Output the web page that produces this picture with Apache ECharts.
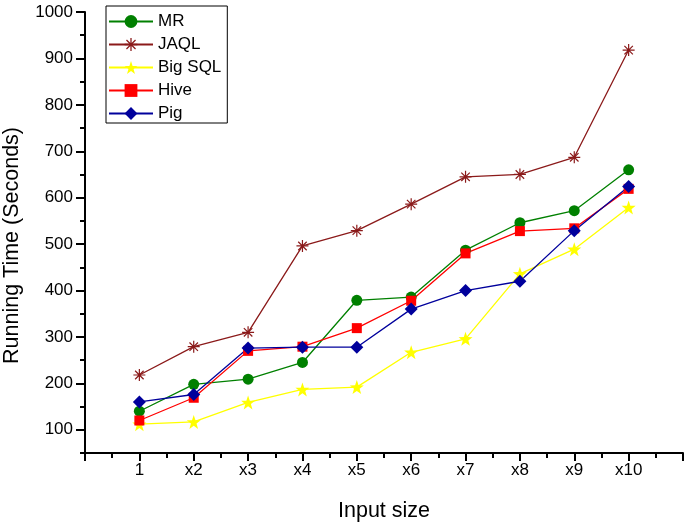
<!DOCTYPE html>
<html>
<head>
    <meta charset="utf-8">
    <title>Running Time vs Input size</title>
    <script src="https://cdn.jsdelivr.net/npm/echarts@6/dist/echarts.min.js"></script>
</head>
<body style="margin:0;">
    <div id="main" style="width: 685px;height:524px;"></div>

    <script type="text/javascript">
        // x positions and their labels
        var sizes = [1, 2, 3, 4, 5, 6, 7, 8, 9, 10];
        var sizeLabels = ['1', 'x2', 'x3', 'x4', 'x5', 'x6', 'x7', 'x8', 'x9', 'x10'];

        // running times (seconds)
        var mr     = [140, 198, 209, 245, 379, 386, 487, 546, 572, 660];
        var jaql   = [218, 279, 310, 496, 529, 586, 645, 650, 687, 918];
        var bigSql = [112, 117, 159, 187, 192, 267, 296, 436, 489, 579];
        var hive   = [120, 169, 270, 279, 319, 378, 480, 528, 534, 619];
        var pig    = [160, 176, 276, 278, 278, 360, 400, 420, 529, 624];

        // y tick labels
        var yLabels = [100, 200, 300, 400, 500, 600, 700, 800, 900, 1000];

        var font = 'Liberation Sans';

        // asterisk marker (4 thin bars crossing)
        var asterisk = 'path://M-1,-10L1,-10L1,10L-1,10Z' +
            'M-10,-1L10,-1L10,1L-10,1Z' +
            'M-6.36,-7.78L7.78,6.36L6.36,7.78L-7.78,-6.36Z' +
            'M-7.78,6.36L6.36,-7.78L7.78,-6.36L-6.36,7.78Z';
        // five point star
        var star = 'path://M0,-10L2.35,-3.24L9.51,-3.09L3.8,1.24L5.88,8.09L0,4L-5.88,8.09L-3.8,1.24L-9.51,-3.09L-2.35,-3.24Z';

        function pairs(vals) {
            var out = [];
            for (var i = 0; i < sizes.length; i++) {
                out.push([sizes[i], vals[i]]);
            }
            return out;
        }

        function line(name, vals, color, symbol, size) {
            return {
                name: name,
                type: 'line',
                data: pairs(vals),
                symbol: symbol,
                symbolSize: size,
                showAllSymbol: true,
                color: color,
                lineStyle: { color: color, width: 1.3 },
                itemStyle: { color: color },
                emphasis: { disabled: true }
            };
        }

        var myChart = echarts.init(document.getElementById('main'));

        var option = {
            animation: false,
            backgroundColor: '#fff',
            grid: {
                left: 85, right: 2, top: 12, bottom: 71,
                containLabel: false,
                outerBoundsMode: 'none'
            },
            legend: {
                orient: 'vertical',
                left: 106,
                top: 6,
                padding: [7, 6, 1, 2],
                borderColor: '#000',
                borderWidth: 1,
                itemWidth: 44,
                itemHeight: 16,
                itemGap: 6,
                textStyle: { fontFamily: font, fontSize: 17, color: '#000' },
                data: ['MR', 'JAQL', 'Big SQL', 'Hive', 'Pig']
            },
            xAxis: {
                type: 'value',
                min: 0,
                max: 11,
                interval: 1,
                name: 'Input size',
                nameLocation: 'middle',
                nameGap: 47,
                nameTextStyle: { fontFamily: font, fontSize: 21.5, color: '#000' },
                axisLine: { lineStyle: { color: '#000', width: 2 } },
                axisTick: { length: 8, lineStyle: { color: '#000', width: 2 } },
                minorTick: { show: true, splitNumber: 2, length: 5, lineStyle: { color: '#000', width: 2 } },
                splitLine: { show: false },
                minorSplitLine: { show: false },
                axisLabel: {
                    fontFamily: font, fontSize: 17, color: '#000', margin: 9,
                    formatter: function (v) { return sizeLabels[v - 1] || ''; }
                }
            },
            yAxis: [{
                type: 'value',
                min: 50,
                max: 1000,
                interval: 50,
                name: 'Running Time (Seconds)',
                nameLocation: 'middle',
                nameGap: 62,
                nameTextStyle: { fontFamily: font, fontSize: 21.5, color: '#000', padding: [0, 26, 0, 0] },
                axisLine: { lineStyle: { color: '#000', width: 2 } },
                axisTick: { length: 5, lineStyle: { color: '#000', width: 2 } },
                splitLine: { show: false },
                axisLabel: {
                    fontFamily: font, fontSize: 17, color: '#000', margin: 12,
                    customValues: yLabels,
                    formatter: function (v) { return v % 100 === 0 ? String(v) : ''; }
                }
            }, {
                type: 'value',
                min: 50,
                max: 1000,
                interval: 50,
                position: 'left',
                axisLine: { show: false },
                axisTick: { length: 9, customValues: yLabels, lineStyle: { color: '#000', width: 2 } },
                axisLabel: { show: false },
                splitLine: { show: false }
            }],
            series: [
                line('MR', mr, '#008000', 'circle', 11),
                line('JAQL', jaql, '#8B1A1A', asterisk, 12),
                line('Big SQL', bigSql, '#FFFF00', star, 14),
                line('Hive', hive, '#FF0000', 'rect', 10),
                line('Pig', pig, '#00009C', 'diamond', 13)
            ]
        };

        myChart.setOption(option);
    </script>
</body>
</html>
